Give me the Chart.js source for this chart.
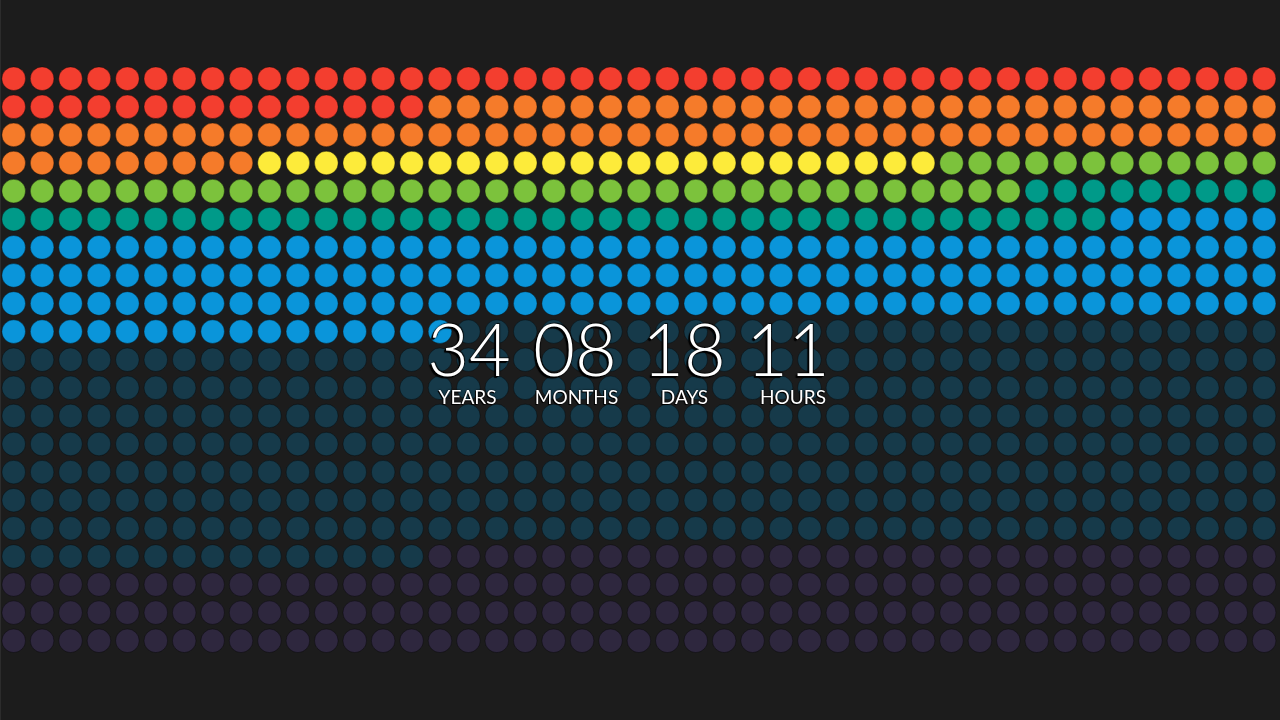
<!DOCTYPE html>
<html>
<head>
<meta charset="utf-8">
<script src="https://cdn.jsdelivr.net/npm/chart.js@4/dist/chart.umd.min.js"></script>
<style>
  html, body { margin: 0; padding: 0; background: #1c1c1c; }
  #wrap { position: relative; width: 1280px; height: 720px; overflow: hidden; background: #1c1c1c; }
  #wrap::before { content: ""; position: absolute; left: 0; top: 0; width: 1px; height: 720px; background: #2c2c2c; z-index: 3; }
  canvas { position: absolute; left: 0; top: 0; }
  .num, .lab { position: absolute; color: #fff; font-family: Lato, "Open Sans", "Noto Sans", sans-serif; white-space: nowrap; transform: translateX(-50%); z-index: 2; }
  .num { font-size: 72px; font-weight: 300; line-height: 1; text-shadow: -1px 1px 0 #000, -2px 2px 1px #000, 1px -1px 0 rgba(0,0,0,0.6), 0 0 2px #000; }
  .lab { font-size: 19px; font-weight: 400; line-height: 1; text-shadow: -1px 1px 0 #000, 0 0 2px #000; letter-spacing: 0px; }
</style>
</head>
<body>
<div id="wrap">
  <canvas id="c" width="1280" height="720"></canvas>
</div>
<script>
// ---- data ----
const COLUMNS = 45;
const segmentNames  = ["red", "orange", "yellow", "green", "teal", "blue", "darkTeal", "purple"];
const segmentCounts = [60, 84, 24, 48, 48, 157, 359, 165];
const segmentColors = ["#f33e2f", "#f57b2a", "#fdeb3a", "#7cc23c", "#009a89", "#0a95da", "#163a4a", "#2e273e"];
const counterValues = ["34", "08", "18", "11"];
const counterLabels = ["YEARS", "MONTHS", "DAYS", "HOURS"];

// build datasets (one per segment), points laid out row-major in the grid
const datasets = [];
let idx = 0;
segmentNames.forEach((name, s) => {
  const pts = [];
  for (let k = 0; k < segmentCounts[s]; k++) {
    pts.push({ x: idx % COLUMNS, y: Math.floor(idx / COLUMNS) });
    idx++;
  }
  datasets.push({
    label: name,
    data: pts,
    backgroundColor: segmentColors[s],
    borderColor: "rgba(0,0,0,0.35)",
    borderWidth: 1,
    pointRadius: 11.8,
    pointHoverRadius: 11.8
  });
});

new Chart(document.getElementById("c"), {
  type: "scatter",
  data: { datasets },
  options: {
    responsive: false,
    animation: false,
    events: [],
    layout: { padding: 0, autoPadding: false },
    plugins: { legend: { display: false }, tooltip: { enabled: false } },
    scales: {
      x: { type: "linear", display: false, min: -0.482, max: 44.558 },
      y: { type: "linear", display: false, reverse: true, min: -2.80, max: 22.82 }
    }
  }
});

// counter text overlay
const numCenters = [469, 575, 684, 788];
const labCenters = [467.5, 576.5, 684.5, 793];
const wrap = document.getElementById("wrap");
counterValues.forEach((v, i) => {
  const d = document.createElement("div");
  d.className = "num";
  d.textContent = v;
  d.style.left = numCenters[i] + "px";
  d.style.top = "312px";
  wrap.appendChild(d);
  const l = document.createElement("div");
  l.className = "lab";
  l.textContent = counterLabels[i];
  l.style.left = labCenters[i] + "px";
  l.style.top = "387px";
  wrap.appendChild(l);
});
</script>
</body>
</html>
